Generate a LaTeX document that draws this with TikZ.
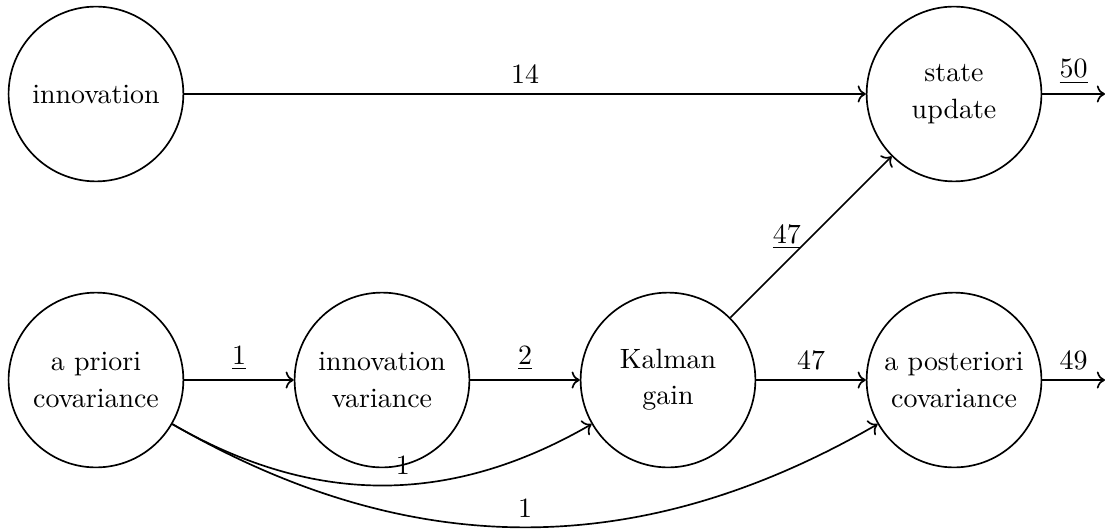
\documentclass[tikz,border=0pt]{standalone}
\usetikzlibrary{arrows.meta}

\tikzset{
  block/.style={draw,circle,semithick,minimum size=2.2cm,inner sep=1pt,
    align=center,font=\fontsize{10}{13}\selectfont},
  flow/.style={semithick,->}
}

\begin{document}
\begin{tikzpicture}
  % --- frame (keeps the margins of the page) ---
  \useasboundingbox (-1.208,1.183) rectangle (12.738,-5.5);

  % spacing between the centres of the stages
  \def\dx{3.6}
  \def\dy{3.6}

  % --- stages ---
  \node[block] (innov)  at (0,0)          {innovation};
  \node[block] (update) at (3*\dx,0)      {state\\update};
  \node[block] (prior)  at (0,-\dy)       {a priori\\covariance};
  \node[block] (var)    at (\dx,-\dy)     {innovation\\variance};
  \node[block] (gain)   at (2*\dx,-\dy)   {Kalman\\gain};
  \node[block] (post)   at (3*\dx,-\dy)   {a posteriori\\covariance};

  % free ends of the outputs
  \coordinate (updateout) at (12.7,0);
  \coordinate (postout)   at (12.7,-\dy);

  % --- top row ---
  \draw[flow] (innov) -- node[above] {14} (update);
  \draw[flow] (update) -- node[above] {\underline{50}} (updateout);

  % --- bottom row ---
  \draw[flow] (prior) -- node[above] {\underline{1}} (var);
  \draw[flow] (var) -- node[above] {\underline{2}} (gain);
  \draw[flow] (gain) -- node[above] {47} (post);
  \draw[flow] (post) -- node[above] {49} (postout);

  % gain feeds the state update
  \draw[flow] (gain) -- node[left] {\underline{47}} (update);

  % prior covariance skips ahead
  \draw[flow] (prior) to[bend right] node[above,pos=0.55] {1} (gain);
  \draw[flow] (prior) to[bend right] node[above] {1} (post);

\end{tikzpicture}
\end{document}
